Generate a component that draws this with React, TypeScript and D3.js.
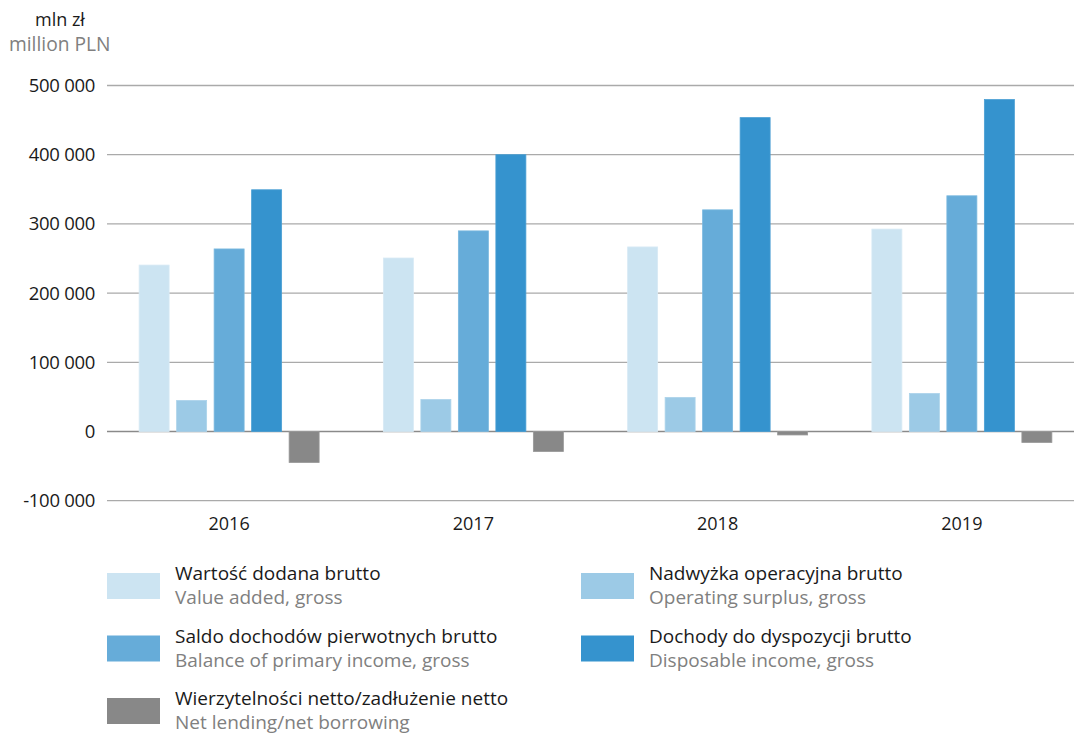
import React from "react";
import * as d3 from "d3";

const years = ["2016", "2017", "2018", "2019"];
const valueAdded = [240500, 250700, 266700, 292500];
const operatingSurplus = [44900, 46300, 49300, 55000];
const primaryIncome = [263800, 289900, 320300, 340600];
const disposableIncome = [349300, 400000, 453600, 479700];
const netLending = [-44900, -29000, -5000, -15900];
const yTicks = [-100000, 0, 100000, 200000, 300000, 400000, 500000];

const seriesNamesPl = [
  "Wartość dodana brutto",
  "Nadwyżka operacyjna brutto",
  "Saldo dochodów pierwotnych brutto",
  "Dochody do dyspozycji brutto",
  "Wierzytelności netto/zadłużenie netto",
];
const seriesNamesEn = [
  "Value added, gross",
  "Operating surplus, gross",
  "Balance of primary income, gross",
  "Disposable income, gross",
  "Net lending/net borrowing",
];
const colors = ["#cce4f2", "#9ccae6", "#66acd9", "#3593ce", "#888888"];
const edgeColors = ["#d8eaf5", "#acd3ea", "#7ab8df", "#4a9fd4", "#999999"];

const series = [valueAdded, operatingSurplus, primaryIncome, disposableIncome, netLending];

const W = 1074;
const H = 734;
const FONT = "'Open Sans', 'Noto Sans', sans-serif";

export default function App() {
  const gridLeft = 107;
  const gridRight = 1074;
  const x = d3.scaleBand<string>().domain(years).range([107, 1084]).paddingInner(0).paddingOuter(0);
  const y = d3.scaleLinear().domain([-100000, 500000]).range([500.7, 85.5]);
  const step = 37.5;
  const barW = 30;
  const fmt = (v: number) => {
    const s = Math.abs(v).toString().replace(/\B(?=(\d{3})+(?!\d))/g, " ");
    return (v < 0 ? "-" : "") + s;
  };

  const legendItems = seriesNamesPl.map((pl, i) => ({
    pl,
    en: seriesNamesEn[i],
    color: colors[i],
    col: i % 2,
    row: Math.floor(i / 2),
  }));

  return (
    <svg width={W} height={H} style={{ position: "absolute", left: 0, top: 0, background: "#fff" }} fontFamily={FONT}>
      <text x={35} y={25.5} fontSize={18} fill="#1a1a1a">mln zł</text>
      <text x={9} y={51} fontSize={19.2} fill="#808080">million PLN</text>

      {yTicks.map((t) => (
        <g key={t}>
          <line
            x1={gridLeft}
            x2={gridRight}
            y1={y(t)}
            y2={y(t)}
            stroke={t === 0 ? "#8a8a8a" : "#aaaaaa"}
            strokeWidth={t === 0 ? 1.6 : 1.3}
          />
          <text x={95} y={y(t) + 6.5} fontSize={18.5} textAnchor="end" fill="#1a1a1a" letterSpacing={-0.3}>
            {fmt(t)}
          </text>
        </g>
      ))}

      {years.map((yr, gi) => {
        const center = (x(yr) as number) + x.bandwidth() / 2;
        const start = center - (step * 4 + barW) / 2;
        return (
          <g key={yr}>
            {series.map((s, si) => {
              const v = s[gi];
              const top = Math.min(y(v), y(0));
              const h = Math.abs(y(v) - y(0));
              return (
                <rect
                  key={si}
                  x={start + si * step}
                  y={top}
                  width={barW}
                  height={h}
                  fill={colors[si]}
                  stroke={edgeColors[si]}
                  strokeWidth={0.8}
                />
              );
            })}
            <text x={center} y={530} fontSize={18} textAnchor="middle" fill="#1a1a1a">
              {yr}
            </text>
          </g>
        );
      })}

      {legendItems.map((it, i) => {
        const sx = it.col === 0 ? 107 : 581;
        const sy = 573 + it.row * 62.5;
        return (
          <g key={i}>
            <rect x={sx} y={sy} width={53} height={26} fill={it.color} />
            <text x={sx + 68} y={sy + 7} fontSize={19} fill="#1a1a1a">{it.pl}</text>
            <text x={sx + 68} y={sy + 31} fontSize={19} fill="#808080">{it.en}</text>
          </g>
        );
      })}
    </svg>
  );
}
